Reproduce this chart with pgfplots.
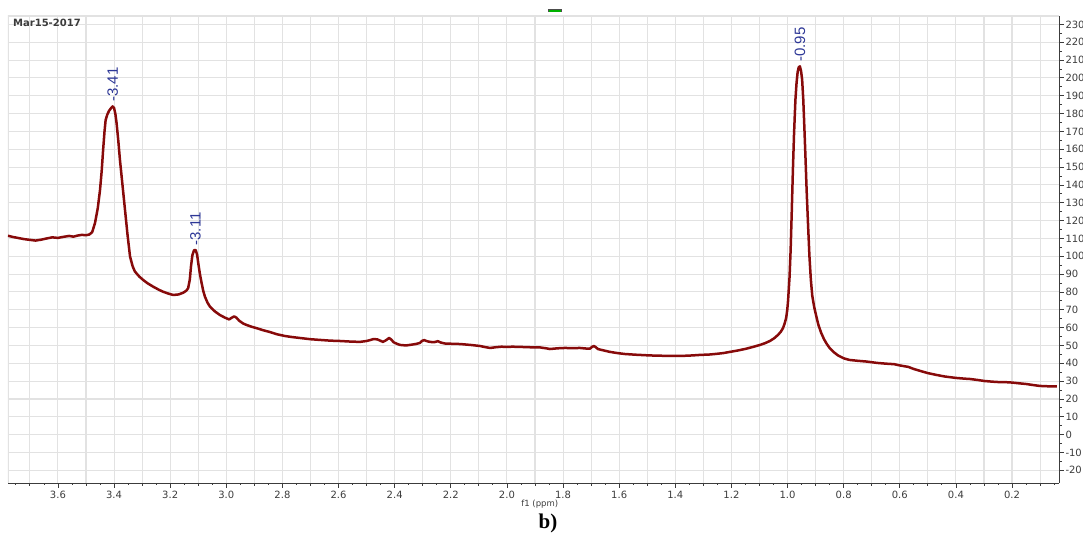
\documentclass[border=0pt]{standalone}
\usepackage{fontspec}
\setmainfont{DejaVu Sans}
\newfontfamily\lsans{Liberation Sans}
\newfontfamily\lserif{Liberation Serif}
\usepackage{pgfplots}
\pgfplotsset{compat=1.18}
\definecolor{trace}{RGB}{135,10,10}
\definecolor{peakblue}{RGB}{45,55,150}
\definecolor{gridgray}{RGB}{226,226,226}
\definecolor{ticktext}{RGB}{60,60,60}
\begin{document}
\begin{tikzpicture}
\begin{axis}[
  name=ax,
  scale only axis, width=1051pt, height=467pt,
  x dir=reverse,
  xmin=0.0327, xmax=3.778, ymin=-27.1, ymax=234.7,
  axis x line=bottom, axis y line=right,
  axis line style={-, ticktext, line width=0.9pt},
  xtick pos=bottom, ytick pos=right, yticklabel pos=right,
  tick align=outside,
  tick style={ticktext, line width=0.8pt},
  major tick length=5pt, minor tick length=3pt,
  xtick={0.2,0.4,0.6,0.8,1.0,1.2,1.4,1.6,1.8,2.0,2.2,2.4,2.6,2.8,3.0,3.2,3.4,3.6},
  minor xtick={0.1,0.3,0.5,0.7,0.9,1.1,1.3,1.5,1.7,1.9,2.1,2.3,2.5,2.7,2.9,3.1,3.3,3.5,3.7},
  extra x ticks={0.05,0.15,0.25,0.35,0.45,0.55,0.65,0.75,0.85,0.95,1.05,1.15,1.25,1.35,1.45,1.55,1.65,1.75,1.85,1.95,2.05,2.15,2.25,2.35,2.45,2.55,2.65,2.75,2.85,2.95,3.05,3.15,3.25,3.35,3.45,3.55,3.65,3.75},
  extra x tick style={grid=none, major tick length=2pt, xticklabel={}},
  ytick={-20,-10,...,230},
  minor y tick num=1,
  xmajorgrids=true, xminorgrids=true, ymajorgrids=true,
  major grid style={gridgray, line width=1.1pt},
  minor grid style={gridgray, line width=1.1pt},
  /pgf/number format/assume math mode=true,
  xticklabel style={font=\fontsize{10}{11}\selectfont, text=ticktext,
    /pgf/number format/.cd, fixed, fixed zerofill, precision=1},
  yticklabel style={font=\fontsize{10}{11}\selectfont, text=ticktext, anchor=west, xshift=-2pt},
  xlabel={f1 (ppm)},
  xlabel style={at={(axis description cs:0.506,0)}, anchor=north, yshift=-14pt,
    font=\fontsize{8.5}{9}\selectfont, text=ticktext},
]
\draw[gridgray, line width=1.1pt] (rel axis cs:0,0) -- (rel axis cs:0,1) -- (rel axis cs:1,1);
\addplot[trace, line width=2.5pt, line join=round] coordinates {
(3.778,111.5) (3.76,110.8) (3.74,110.2) (3.72,109.6) (3.70,109.2) (3.68,108.8)
(3.66,109.3) (3.64,110.0) (3.62,110.6) (3.60,110.3) (3.58,110.9) (3.56,111.4)
(3.545,111.0) (3.53,111.6) (3.515,112.0) (3.50,111.8) (3.488,112.2) (3.478,113.5)
(3.468,118.6) (3.458,127) (3.450,137.2) (3.444,148) (3.439,159.6) (3.434,170)
(3.430,176.4) (3.424,179.5) (3.418,181.5) (3.412,182.8) (3.405,184.0) (3.400,183.2)
(3.395,179.5) (3.391,174.6) (3.385,165) (3.379,154) (3.370,140) (3.361,126)
(3.352,112) (3.343,99.8) (3.334,94.5) (3.326,91.5) (3.31,88.6) (3.296,86.7)
(3.28,84.8) (3.26,82.9) (3.24,81.2) (3.225,80.1) (3.205,79.0) (3.189,78.3)
(3.17,78.6) (3.153,79.6) (3.142,80.8) (3.136,82.1) (3.130,87) (3.126,94.1)
(3.121,100.5) (3.115,103.4) (3.109,103.5) (3.104,100.8) (3.100,96.2) (3.094,90)
(3.088,85) (3.082,80.5) (3.076,77.3) (3.067,74) (3.058,71.7) (3.04,69.0)
(3.023,67.1) (3.005,65.6) (2.990,64.6) (2.980,65.6) (2.972,66.3) (2.964,65.6)
(2.955,64.0) (2.940,62.3) (2.928,61.5) (2.91,60.5) (2.892,59.7) (2.87,58.6)
(2.844,57.5) (2.82,56.3) (2.791,55.3) (2.765,54.7) (2.738,54.2) (2.70,53.5)
(2.666,53.1) (2.63,52.7) (2.595,52.5) (2.56,52.2) (2.524,52.0) (2.500,52.5)
(2.488,53.0) (2.475,53.6) (2.462,53.4) (2.450,52.6) (2.442,52.0) (2.432,52.8)
(2.420,54.2) (2.412,53.3) (2.404,51.8) (2.39,50.8) (2.381,50.3) (2.36,50.0)
(2.346,50.3) (2.325,50.8) (2.310,51.4) (2.302,52.6) (2.295,53.0) (2.285,52.4)
(2.274,52.0) (2.26,51.8) (2.246,52.4) (2.235,51.6) (2.221,51.1) (2.19,50.9)
(2.167,50.8) (2.13,50.3) (2.096,49.7) (2.075,49.0) (2.060,48.6) (2.04,49.0)
(2.020,49.3) (2.000,49.2) (1.98,49.3) (1.954,49.2) (1.92,49.0) (1.882,48.9)
(1.86,48.4) (1.847,48.0) (1.82,48.4) (1.793,48.6) (1.765,48.5) (1.740,48.6)
(1.72,48.3) (1.704,48.2) (1.697,49.2) (1.690,49.7) (1.683,49.0) (1.676,48.0)
(1.655,47.2) (1.633,46.4) (1.605,45.7) (1.579,45.2) (1.54,44.8) (1.490,44.4)
(1.44,44.2) (1.383,44.1) (1.34,44.4) (1.312,44.7) (1.28,44.9) (1.259,45.2)
(1.23,45.7) (1.205,46.4) (1.18,47.1) (1.152,48.0) (1.125,49.1) (1.098,50.3)
(1.080,51.3) (1.063,52.5) (1.048,54.0) (1.034,55.9) (1.024,57.7) (1.016,59.8)
(1.010,62.5) (1.005,65.4) (1.001,70) (0.998,75.4) (0.993,88) (0.989,103.5)
(0.985,125) (0.981,148) (0.977,168) (0.972,187.6) (0.968,197) (0.964,203.3)
(0.960,206.0) (0.956,206.5) (0.952,204) (0.948,199) (0.944,188) (0.940,172)
(0.936,155) (0.932,137) (0.927,118) (0.922,100) (0.917,87) (0.912,78)
(0.905,71.5) (0.897,66) (0.89,61.5) (0.88,57) (0.87,53.5) (0.86,50.8)
(0.85,48.6) (0.835,46.2) (0.82,44.4) (0.80,42.8) (0.78,41.9) (0.75,41.4)
(0.72,41.0) (0.70,40.6) (0.68,40.2) (0.65,39.8) (0.62,39.5) (0.60,38.8)
(0.57,38.0) (0.55,36.8) (0.52,35.4) (0.50,34.5) (0.47,33.5) (0.44,32.6)
(0.40,31.8) (0.37,31.4) (0.35,31.2) (0.32,30.6) (0.30,30.1) (0.27,29.7)
(0.25,29.5) (0.22,29.4) (0.20,29.2) (0.17,28.7) (0.15,28.4) (0.12,27.7)
(0.10,27.3) (0.07,27.1) (0.04,27.0)
};
\node[rotate=90, anchor=west, inner sep=0pt, text=peakblue, font=\lsans\fontsize{15}{15}\selectfont] at (axis cs:3.405,186.5) {-3.41};
\node[rotate=90, anchor=west, inner sep=0pt, text=peakblue, font=\lsans\fontsize{15}{15}\selectfont] at (axis cs:3.110,106) {-3.11};
\node[rotate=90, anchor=west, inner sep=0pt, text=peakblue, font=\lsans\fontsize{15}{15}\selectfont] at (axis cs:0.956,209) {-0.95};
\node[anchor=north west, inner sep=0pt, text=ticktext, font=\bfseries\fontsize{10}{10}\selectfont] at ([xshift=5pt,yshift=-2.5pt]rel axis cs:0,1) {Mar15-2017};
\end{axis}
\draw[black!70, line width=3pt] ([xshift=540pt,yshift=5pt]ax.north west) -- ++(14pt,0);
\draw[green!70!black, line width=1.6pt] ([xshift=540.7pt,yshift=5pt]ax.north west) -- ++(12.6pt,0);
\node[font=\lserif\bfseries\fontsize{21}{21}\selectfont, text=black] at ([xshift=540pt,yshift=-40pt]ax.south west) {b)};
\pgfresetboundingbox
\path[use as bounding box] ([xshift=-8pt,yshift=-52pt]ax.south west) rectangle ([xshift=24pt,yshift=16pt]ax.north east);
\end{tikzpicture}
\end{document}
